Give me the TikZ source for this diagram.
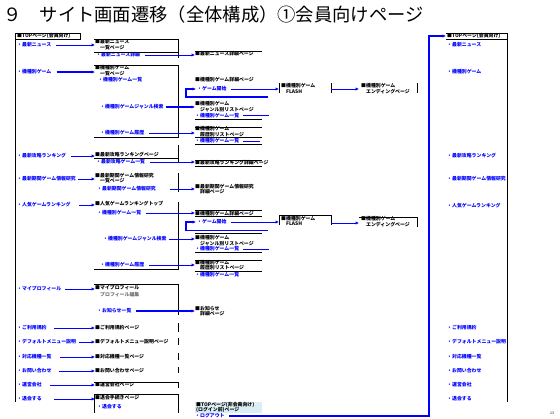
\documentclass[tikz,border=0pt]{standalone}
\usepackage{fontspec}
\setmainfont{Noto Sans CJK JP}
\usetikzlibrary{arrows.meta}
\newcommand\sm{\fontsize{4.9}{5.6}\selectfont\bfseries}
\definecolor{lnblue}{RGB}{0,0,255}
\definecolor{pale}{RGB}{218,238,243}
\tikzset{
  t/.style={anchor=west, inner sep=0pt, font=\sm, text=black, align=left},
  tb/.style={t, text=lnblue},
  tg/.style={t, text=black!55},
  k/.style={line width=0.8pt, black},
  bk/.style={line width=0.9pt, lnblue},
  thk/.style={line width=1.6pt},
  ar/.style={bk, -{Latex[length=3.5pt,width=3.4pt]}},
}
\begin{document}
\begin{tikzpicture}[x=1pt,y=-1pt]
\useasboundingbox (0,0) rectangle (560,418);
\fill[white] (0,0) rectangle (560,418);

% title
\node[anchor=west, inner sep=0pt, font=\fontsize{18.3}{19}\selectfont] (title) at (3,15) {９　サイト画面遷移（全体構成）①会員向けページ};

% ---------- left column ----------
\node[t]  (L0)  at (17,36)  {■TOPページ(会員向け)};
\node[tb] (L1)  at (17,45)  {・最新ニュース};
\node[tb] (L2)  at (17,72)  {・機種別ゲーム};
\node[tb] (L3)  at (17,156) {・最新攻略ランキング};
\node[tb] (L4)  at (17,179) {・最新期間ゲーム情報研究};
\node[tb] (L5)  at (17,205) {・人気ゲームランキング};
\node[tb] (L6)  at (17,289) {・マイプロフィール};
\node[tb] (L7)  at (17,328) {・ご利用規約};
\node[tb] (L8)  at (17,342) {・デフォルトメニュー説明};
\node[tb] (L9)  at (17,357) {・対応機種一覧};
\node[tb] (L10) at (17,371) {・お問い合わせ};
\node[tb] (L11) at (17,385) {・運営会社};
\node[tb] (L12) at (17,399) {・退会する};
\draw[k] (15,33) -- (80,33) -- (80,39) -- (15,39);
\draw[k] (15,33) -- (15,402);

% ---------- middle column ----------
\node[t]  (M1a) at (95,44.5)  {■最新ニュース\\\hphantom{■}一覧ページ};
\node[tb] (M1c) at (96,55)  {・最新ニュース詳細};
\draw[k] (94,39) -- (178,39) -- (178,58);
\draw[k] (94,52) -- (178,52);

\node[t]  (M2a) at (95,70.5) {■機種別ゲーム\\\hphantom{■}一覧ページ};
\node[tb] (M2c) at (98,80)  {・機種別ゲーム一覧};
\node[tb] (M2d) at (100,107) {・機種別ゲームジャンル検索};
\node[tb] (M2e) at (100,133) {・機種別ゲーム履歴};
\draw[k] (94,65) -- (178,65) -- (178,137) -- (94,137);

\node[t]  (M3a) at (95,155) {■最新攻略ランキングページ};
\node[tb] (M3b) at (96,162) {・最新攻略ゲーム一覧};
\draw[k] (94,158) -- (178,158);
\draw[k] (178,145) -- (178,163);

\node[t]  (M4a) at (95,178) {■最新期間ゲーム情報研究\\\hphantom{■}一覧ページ};
\node[tb] (M4c) at (97,189) {・最新期間ゲーム情報研究};
\draw[k] (178,173) -- (178,192);

\node[t]  (M5a) at (95,204) {■人気ゲームランキングトップ};
\node[tb] (M5b) at (97,213) {・機種別ゲーム一覧};
\node[tb] (M5c) at (103,239) {・機種別ゲームジャンル検索};
\node[tb] (M5d) at (100,265) {・機種別ゲーム履歴};
\draw[k] (178,202) -- (178,269) -- (94,269);

\node[t]  (M6a) at (95,288) {■マイプロフィール};
\node[tg] (M6b) at (100,295) {プロフィール編集};
\node[tb] (M6c) at (97,311) {・お知らせ一覧};
\draw[k] (94,284) -- (178,284) -- (178,315);

\node[t] (M7)  at (95,328) {■ご利用規約ページ};
\node[t] (M8)  at (95,342) {■デフォルトメニュー説明ページ};
\node[t] (M9)  at (95,357) {■対応機種一覧ページ};
\node[t] (M10) at (95,371) {■お問い合わせページ};
\node[t] (M11) at (95,385) {■運営会社ページ};
\node[t] (M12a) at (95,398) {■退会手続きページ};
\node[tb] (M12b) at (97,407) {・退会する};
\draw[k] (178,323) -- (178,332);
\draw[k] (178,338) -- (178,345);
\draw[k] (178,353) -- (178,360);
\draw[k] (178,367) -- (178,373);
\draw[k] (94,382) -- (178,382) -- (178,388);
\draw[k] (94,413) -- (94,394) -- (178,394) -- (178,413);

% left -> middle arrows
\draw[ar, shorten <=5pt] (L1.east) -- (L1.east -| M1a.west);
\draw[ar, thk, shorten <=5pt] (L2.east) -- (L2.east -| M2a.west);
\draw[ar, shorten <=5pt] (L3.east) -- (L3.east -| M3a.west);
\draw[ar, shorten <=2pt] (L4.east) -- (L4.east -| M4a.west);
\draw[ar, shorten <=8pt] (L5.east) -- (L5.east -| M5a.west);
\draw[ar, shorten <=4pt] (L6.east) -- (L6.east -| M6a.west);
\draw[ar, shorten <=7pt] (L7.east) -- (L7.east -| M7.west);
\draw[ar, shorten <=3pt] (L8.east) -- (L8.east -| M8.west);
\draw[ar, shorten <=8pt] (L9.east) -- (L9.east -| M9.west);
\draw[ar, shorten <=7pt] (L10.east) -- (L10.east -| M10.west);
\draw[ar, shorten <=8pt] (L11.east) -- (L11.east -| M11.west);
\draw[ar, shorten <=12pt] (L12.east) -- (L12.east -| M12a.west);

% ---------- third column ----------
\node[t]  (R1)  at (195,54) {■最新ニュース詳細ページ};
\draw[k] (195,51) -- (262,51);

\node[t]  (R2a) at (195,80) {■機種別ゲーム詳細ページ};
\node[tb] (R2b) at (197,89) {・ゲーム開始};
\node[t]  (F1)  at (281,88.5) {■機種別ゲーム\\\hphantom{■}FLASH};
\node[t]  (E1)  at (361,88.5) {■機種別ゲーム\\\hphantom{■}エンディングページ};
\draw[k] (279,83) -- (279,93);
\draw[k] (331,83) -- (331,93);
\draw[k] (417,83) -- (417,93);
\coordinate (F1in) at (279,89);
\coordinate (F1out) at (331,89);
\coordinate (E1in) at (359,89);
\draw[ar, shorten <=4pt] (R2b.east) -- (F1in);
\draw[ar] (F1out) -- (E1in);
\coordinate (lp1) at (268,97);
\coordinate (lp1c) at (186,97);
\draw[ar, thk] (lp1) -- (lp1c) |- ([xshift=-1pt]R2b.west);

\node[t]  (R3)  at (195,106.5) {■機種別ゲーム\\\hphantom{■}ジャンル別リストページ};
\node[tb] (R3c) at (195,115.5) {・機種別ゲーム一覧};
\coordinate (R3x) at (269,115.5);
\draw[bk] ([xshift=4pt]R3c.east) -- (R3x);
\draw[k] (195,119) -- (262,119);

\node[t]  (R4)  at (195,131.5) {■機種別ゲーム\\\hphantom{■}履歴別リストページ};
\node[tb] (R4c) at (195,141) {・機種別ゲーム一覧};
\coordinate (R4x) at (260,141);
\draw[bk] ([xshift=4pt]R4c.east) -- (R4x);
\draw[k] (195,127) -- (262,127);
\draw[k] (195,137) -- (262,137);
\draw[k] (195,144) -- (262,144);

\draw[ar, shorten <=5pt] (M1c.east) -- (M1c.east -| R1.west);
\draw[ar, thk, shorten <=2pt] (M2d.east) -- (M2d.east -| R3.west);
\draw[ar, shorten <=5pt] (M2e.east) -- (M2e.east -| R4.west);

\node[t]  (R5)  at (195,163) {■最新攻略ランキング詳細ページ};
\draw[k] (195,160) -- (262,160);
\draw[k] (195,166.5) -- (262,166.5);
\draw[ar, shorten <=5pt] (M3b.east) -- (M3b.east -| R5.west);

\node[t]  (R6)  at (195,189) {■最新期間ゲーム情報研究\\\hphantom{■}詳細ページ};
\draw[ar, shorten <=14pt] (M4c.east) -- (M4c.east -| R6.west);

\node[t]  (R7a) at (195,213.5) {■機種別ゲーム詳細ページ};
\node[tb] (R7b) at (197,222) {・ゲーム開始};
\draw[k] (195,210.5) -- (262,210.5);
\draw[k] (195,216.5) -- (262,216.5);
\draw[ar, shorten <=5pt] (M5b.east) -- (M5b.east -| R7a.west);
\node[t]  (F2)  at (281,221) {■機種別ゲーム\\\hphantom{■}FLASH};
\node[t]  (E2)  at (361,221.5) {■機種別ゲーム\\\hphantom{■}エンディングページ};
\draw[k] (279,225) -- (279,215) -- (331,215) -- (331,225);
\draw[k] (359,217) -- (417,217) -- (417,227);
\coordinate (F2in) at (279,222);
\coordinate (F2out) at (331,223);
\coordinate (E2in) at (359,223);
\draw[ar, shorten <=4pt] (R7b.east) -- (F2in);
\draw[ar] (F2out) -- (E2in);
\coordinate (lp2) at (268,230.5);
\coordinate (lp2c) at (186,230.5);
\draw[ar, thk] (lp2) -- (lp2c) |- ([xshift=-1pt]R7b.west);

\node[t]  (R8)  at (195,240.5) {■機種別ゲーム\\\hphantom{■}ジャンル別リストページ};
\node[tb] (R8c) at (195,249) {・機種別ゲーム一覧};
\coordinate (R8x) at (269,249);
\draw[bk] ([xshift=4pt]R8c.east) -- (R8x);
\draw[k] (195,233) -- (262,233);
\draw[k] (195,252.5) -- (262,252.5);
\draw[ar, shorten <=2pt] (M5c.east) -- (M5c.east -| R8.west);

\node[t]  (R9)  at (195,265) {■機種別ゲーム\\\hphantom{■}履歴別リストページ};
\node[tb] (R9c) at (195,275) {・機種別ゲーム一覧};
\draw[k] (195,260) -- (262,260);
\draw[k] (195,271) -- (262,271);
\draw[ar, shorten <=5pt] (M5d.east) -- (M5d.east -| R9.west);

\node[t]  (R10) at (195,311) {■お知らせ\\\hphantom{■}詳細ページ};
\draw[ar, thk, shorten <=4pt] (M6c.east) -- (M6c.east -| R10.west);

\fill[pale] (195,402) rectangle (262,413);
\node[t]  (R11) at (196,407.5) {■TOPページ(非会員向け)\\(ログイン前)ページ};
\node[tb] (R11c) at (195,416) {・ログアウト};

% ---------- right column ----------
\node[t]  (H)   at (447,36) {■TOPページ(会員向け)};
\draw[k] (446,33) -- (507,33) -- (507,402);
\draw[k] (446,39) -- (507,39);
\coordinate (tp) at (429,0);
\draw[ar, line width=1.1pt, shorten <=4pt] (R11c.east) -| (tp |- H.west) -- ([xshift=-1pt]H.west);

\node[tb] (P1)  at (447,45)  {・最新ニュース};
\node[tb] (P2)  at (447,72)  {・機種別ゲーム};
\node[tb] (P3)  at (447,156) {・最新攻略ランキング};
\node[tb] (P4)  at (447,179) {・最新期間ゲーム情報研究};
\node[tb] (P5)  at (447,206) {・人気ゲームランキング};
\node[tb] (P6)  at (447,328) {・ご利用規約};
\node[tb] (P7)  at (447,342) {・デフォルトメニュー説明};
\node[tb] (P8)  at (447,357) {・対応機種一覧};
\node[tb] (P9)  at (447,371) {・お問い合わせ};
\node[tb] (P10) at (447,385) {・運営会社};
\node[tb] (P11) at (447,399) {・退会する};

\node[t, font=\fontsize{3.5}{4}\selectfont] (pg) at (550,413) {13};
\end{tikzpicture}
\end{document}
